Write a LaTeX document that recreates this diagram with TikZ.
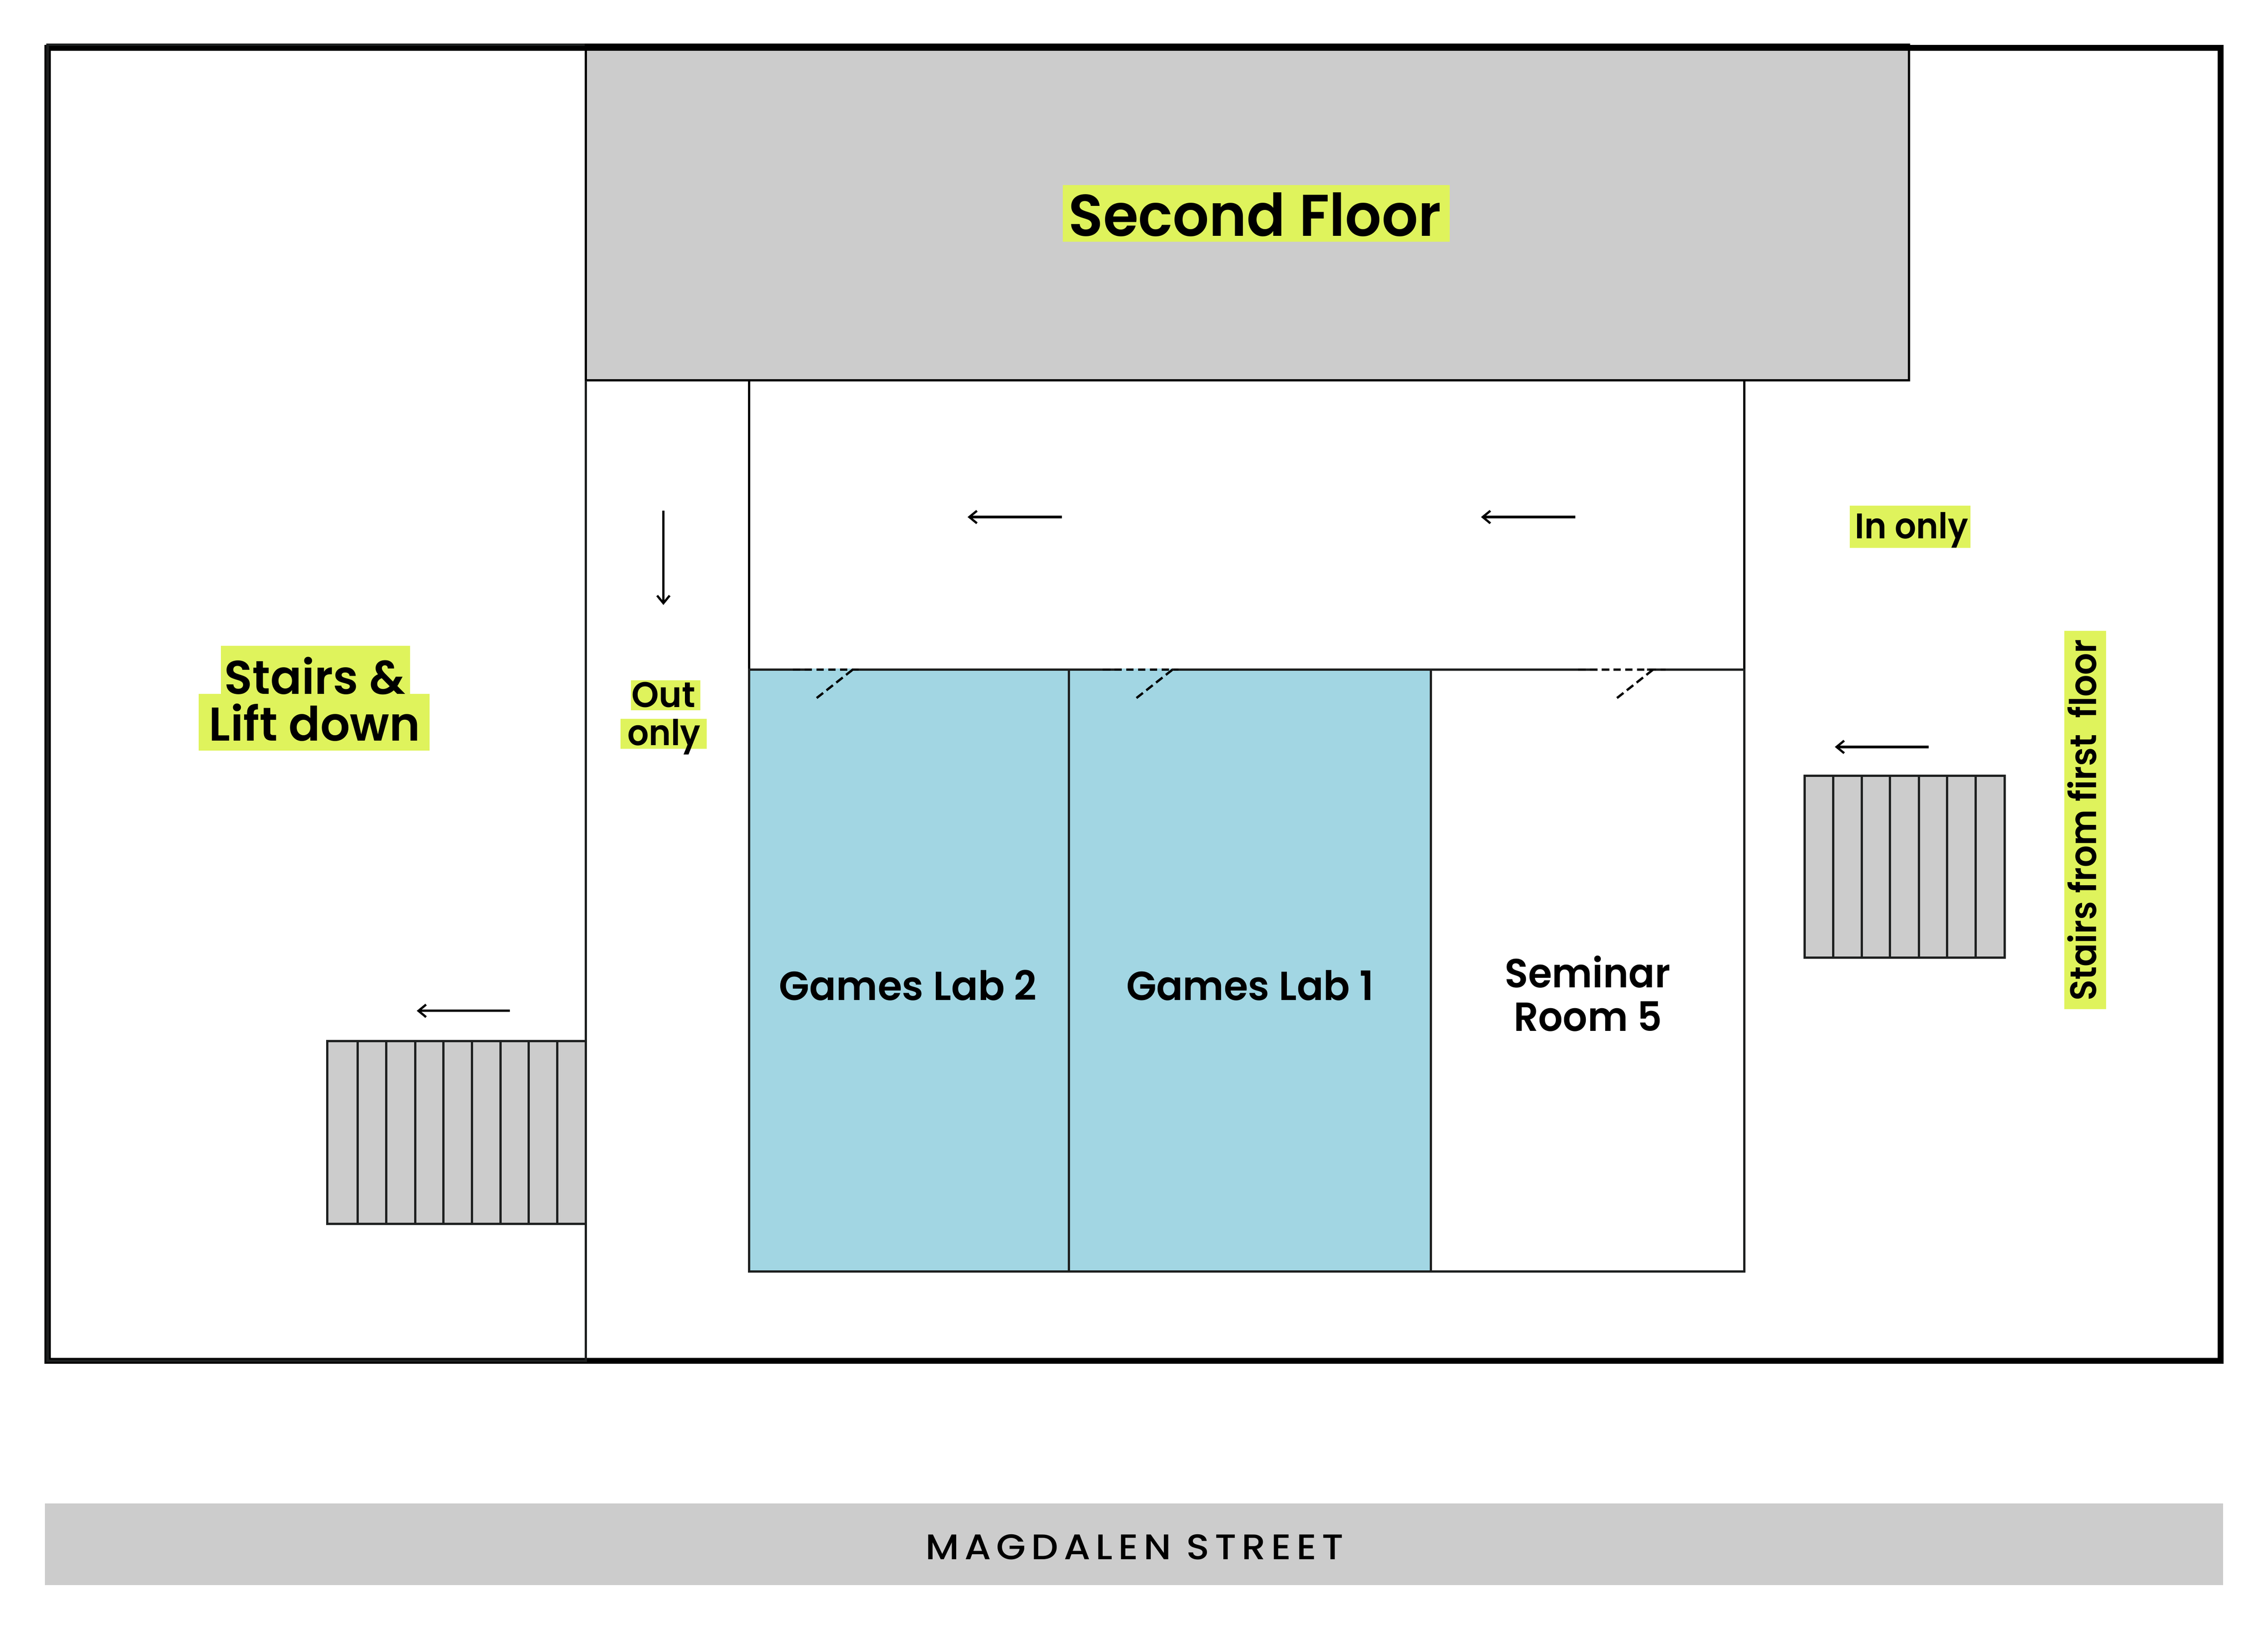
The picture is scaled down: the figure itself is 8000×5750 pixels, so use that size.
\documentclass[tikz,border=0pt]{standalone}
\usepackage{graphicx}
\usepackage{fontspec}
\setmainfont{Poppins}[UprightFont=* SemiBold]
\newfontfamily\streetfont{Poppins}[UprightFont=* Medium,LetterSpace=14]
\usetikzlibrary{arrows.meta}
\definecolor{hilite}{HTML}{DFF35C}
\definecolor{labblue}{HTML}{A2D6E3}
\definecolor{stonegrey}{HTML}{CCCCCC}
\definecolor{wallink}{HTML}{1E2020}
\newsavebox\fitbox
\newcommand\fitw[2]{\sbox\fitbox{#2}\pgfmathsetmacro\fitr{#1*0.2845276/\the\wd\fitbox}\scalebox{\fitr}[1]{\usebox\fitbox}}
\newcommand\fsz[1]{\fontsize{#1}{#1}\selectfont}
\tikzset{
  x=0.01cm,y=-0.01cm,
  thinwall/.style={draw=wallink,line width=2.28pt,line cap=butt,line join=miter},
  blackwall/.style={draw=black,line width=2.28pt,line join=miter},
  outerwall/.style={draw=black,line width=5.97pt,line join=miter},
  flow/.style={draw=black,line width=2.4pt,-{Straight Barb[length=7.6pt,width=12.5pt,line width=2.2pt]}},
  doorline/.style={draw=black,line width=2.28pt,dash pattern=on 7.4pt off 4.4pt},
  doorleaf/.style={draw=black,line width=2.28pt,dash pattern=on 8.2pt off 4.3pt},
  hl/.style={fill=hilite,draw=none},
  lbl/.style={inner sep=0pt,outer sep=0pt,anchor=base,text=black},
}
\begin{document}
\begin{tikzpicture}
\useasboundingbox (0,0) rectangle (8000,5750);
\fill[white] (0,0) rectangle (8000,5750);
% street
\fill[stonegrey] (158,5304) rectangle (7842,5592);
% second floor
\fill[stonegrey] (2067,158) rectangle (6733,1342);
% outer
\draw[outerwall] (168,168.5) rectangle (7832,4801);
\draw[thinwall] (168,158) rectangle (2067,4801);
\draw[blackwall] (2067,158) rectangle (6733,1342);
\draw[thinwall] (2067,1342) -- (2067,4801);
% corridor
\draw[blackwall] (2642,1342) rectangle (6153,2363);
% rooms
\draw[thinwall,fill=labblue] (2642,2363) rectangle (3770,4485);
\draw[thinwall,fill=labblue] (3770,2363) rectangle (5047,4485);
\draw[thinwall,fill=white] (5047,2363) rectangle (6153,4485);
% door gaps and leaves
\fill[labblue] (2862,2359) rectangle (3004,2367);
\fill[labblue] (3955,2359) rectangle (4132,2367);
\fill[white] (5632,2359) rectangle (5810,2367);
\draw[doorline] (2797,2363) -- (3029,2363);
\draw[doorleaf] (3007,2363) -- (2880,2463);
\draw[doorline] (3890,2363) -- (4157,2363);
\draw[doorleaf] (4135,2363) -- (4008,2463);
\draw[doorline] (5567,2363) -- (5875,2363);
\draw[doorleaf] (5830,2363) -- (5703,2463);
% left stairs
\draw[thinwall,fill=stonegrey] (1155,3672) rectangle (2066,4317);
\foreach \tx in {1262,1363,1464,1564,1664,1765,1865,1965}
  \draw[thinwall] (\tx,3672) -- (\tx,4317);
% right stairs
\draw[thinwall,fill=stonegrey] (6365,2736) rectangle (7071,3379);
\foreach \tx in {6466,6567,6667,6768,6868,6968}
  \draw[thinwall] (\tx,2736) -- (\tx,3379);
% arrows
\coordinate (c1a) at (3745,1824); \coordinate (c1b) at (3413,1824);
\coordinate (c2a) at (5556,1824); \coordinate (c2b) at (5224,1824);
\coordinate (c3a) at (2340,1802); \coordinate (c3b) at (2340,2134);
\coordinate (c4a) at (1799,3566); \coordinate (c4b) at (1470,3566);
\coordinate (c5a) at (6803,2635); \coordinate (c5b) at (6472,2635);
\draw[flow] (c1a) -- (c1b);
\draw[flow] (c2a) -- (c2b);
\draw[flow] (c3a) -- (c3b);
\draw[flow] (c4a) -- (c4b);
\draw[flow] (c5a) -- (c5b);
% highlights
\fill[hl] (3749,652) rectangle (5113,853);
\fill[hl] (779,2279) rectangle (1446,2448);
\fill[hl] (701,2448) rectangle (1515,2648);
\fill[hl] (2225,2400) rectangle (2471,2505);
\fill[hl] (2189,2536) rectangle (2492,2641);
\fill[hl] (6525,1784) rectangle (6950,1932);
\fill[hl] (7281,2225) rectangle (7428,3560);
% labels
\node[lbl] (second) at (4426,832) {\fsz{59}\fitw{1314}{Second Floor}};
\node[lbl] (stairs) at (1111,2448) {\fsz{47.5}\fitw{638}{Stairs \&}};
\node[lbl] (lift) at (1110,2614) {\fsz{47.5}\fitw{745}{Lift down}};
\node[lbl] (out) at (2340,2495) {\fsz{35.7}\fitw{225}{Out}};
\node[lbl] (only) at (2342,2630) {\fsz{35.7}\fitw{258}{only}};
\node[lbl] (inonly) at (6743,1900) {\fsz{35.7}\fitw{398}{In only}};
\node[lbl] (lab2) at (3203,3528) {\fsz{40.7}\fitw{908}{Games Lab 2}};
\node[lbl] (lab1) at (4409,3528) {\fsz{40.7}\fitw{872}{Games Lab 1}};
\node[lbl] (sem) at (5600,3484) {\fsz{40.7}\fitw{583}{Seminar}};
\node[lbl] (room) at (5601,3637) {\fsz{40.7}\fitw{522}{Room 5}};
\node[lbl,rotate=90] (first) at (7394,2893) {\fsz{37}\fitw{1275}{Stairs from first\ \ floor}};
\node[lbl] (street) at (4002,5501) {\streetfont\fsz{35.7}\fitw{1475}{MAGDALEN STREET}};
\end{tikzpicture}
\end{document}
